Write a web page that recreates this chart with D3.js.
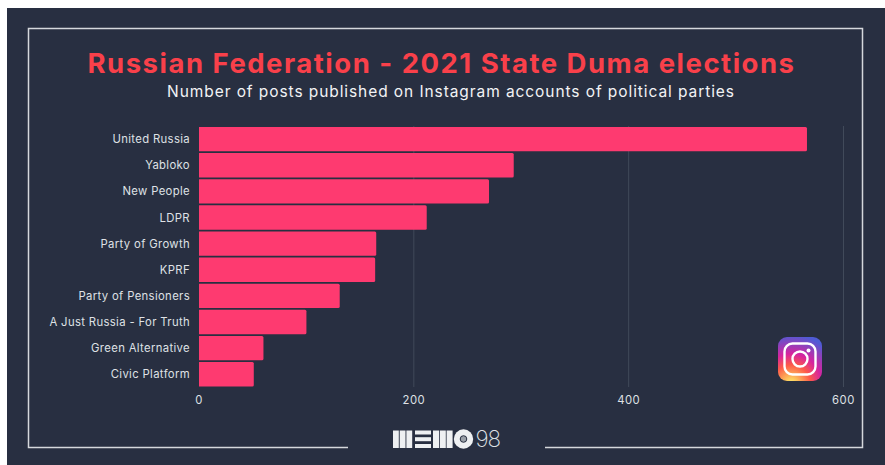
<!DOCTYPE html>
<html><head><meta charset="utf-8">
<script src="https://cdn.jsdelivr.net/npm/d3@7"></script>
<style>html,body{margin:0;padding:0;background:#fff}svg{display:block}text{font-family:Inter,"Noto Sans",sans-serif}</style>
</head><body><svg id="c" width="885" height="465"></svg>
<script>
const title = "Russian Federation - 2021 State Duma elections";
const subtitle = "Number of posts published on Instagram accounts of political parties";
const parties = ["United Russia","Yabloko","New People","LDPR","Party of Growth","KPRF","Party of Pensioners","A Just Russia - For Truth","Green Alternative","Civic Platform"];
const posts = [566,293,270,212,165,164,131,100,60,51];
const ticks = [0,200,400,600];

const svg = d3.select("#c");
svg.append("rect").attr("x",7).attr("y",8).attr("width",878).attr("height",457).attr("fill","#282f41");
const x = d3.scaleLinear().domain([0,600]).range([199,843.5]);
const y = d3.scaleBand().domain(parties).range([126.2,387.2]).paddingInner(0.07).paddingOuter(0.03);

svg.append("path").attr("d","M348,447.5H28.5V28.5H862.5V447.5H545").attr("fill","none").attr("stroke","#d5d8dc").attr("stroke-width",1.5);

svg.append("text").attr("x",441.5).attr("y",73).attr("text-anchor","middle").attr("fill","#f9404a").attr("font-size",27.5).attr("font-weight",700).attr("letter-spacing",1.5).text(title);
svg.append("text").attr("x",451).attr("y",97).attr("text-anchor","middle").attr("fill","#f2f3f5").attr("font-size",15.5).attr("font-weight",400).attr("letter-spacing",0.92).text(subtitle);

svg.append("g").selectAll("line").data(ticks.slice(1)).join("line")
  .attr("x1",d=>x(d)).attr("x2",d=>x(d)).attr("y1",126).attr("y2",387).attr("stroke","#414a5a").attr("stroke-width",1);

svg.append("g").selectAll("path").data(parties).join("path")
  .attr("d",(d,i)=>{const x0=x(0),x1=x(posts[i]),t=y(d),b=t+y.bandwidth(),r=1.5;
    return `M${x0},${t}H${x1-r}Q${x1},${t} ${x1},${t+r}V${b-r}Q${x1},${b} ${x1-r},${b}H${x0}Z`;})
  .attr("fill","#fe3a70");

svg.append("g").selectAll("text").data(parties).join("text")
  .attr("x",190).attr("y",d=>y(d)+y.bandwidth()/2+4).attr("text-anchor","end")
  .attr("fill","#dfe1e5").attr("font-size",11.3).attr("letter-spacing",0.35).text(d=>d);

svg.append("g").selectAll("text").data(ticks).join("text")
  .attr("x",d=>x(d)).attr("y",404).attr("text-anchor","middle")
  .attr("fill","#dfe1e5").attr("font-size",11.3).attr("letter-spacing",0.5).text(d=>d);

// Instagram icon
const defs = svg.append("defs");
const g1 = defs.append("radialGradient").attr("id","ig").attr("cx","0.3").attr("cy","1.07").attr("r","1.25");
[["0%","#fdf497"],["8%","#fdd45f"],["35%","#fd5949"],["55%","#d6249f"],["90%","#4f5bd5"]].forEach(s=>g1.append("stop").attr("offset",s[0]).attr("stop-color",s[1]));
const ig = svg.append("g").attr("transform","translate(778,337)");
ig.append("rect").attr("width",44).attr("height",44).attr("rx",9).attr("fill","url(#ig)");
ig.append("rect").attr("x",6.5).attr("y",6.5).attr("width",31).attr("height",31).attr("rx",8).attr("fill","none").attr("stroke","#fff").attr("stroke-width",2.4);
ig.append("circle").attr("cx",22).attr("cy",22).attr("r",7.5).attr("fill","none").attr("stroke","#fff").attr("stroke-width",2.4);
ig.append("circle").attr("cx",30.5).attr("cy",13.5).attr("r",2).attr("fill","#fff");

// MEMO 98 logo
const lg = svg.append("g").attr("fill","#eef0f2");
[393,399.7,406.4].forEach(v=>lg.append("rect").attr("x",v).attr("y",430.5).attr("width",5.8).attr("height",17.5));
[430.5,437.2,444].forEach(v=>lg.append("rect").attr("x",415).attr("y",v).attr("width",16).attr("height",4));
[433,439.8,446.6].forEach(v=>lg.append("rect").attr("x",v).attr("y",430.5).attr("width",6).attr("height",17.5));
lg.append("circle").attr("cx",463.5).attr("cy",439).attr("r",9.7);
svg.append("circle").attr("cx",463.5).attr("cy",439).attr("r",3.3).attr("fill","#9aa0a8").attr("stroke","#282f41").attr("stroke-width",1);
svg.append("text").attr("x",475.5).attr("y",447).attr("fill","#dfe1e5").attr("font-size",22.5).attr("font-weight",200).attr("letter-spacing",-1).text("98");
</script></body></html>
